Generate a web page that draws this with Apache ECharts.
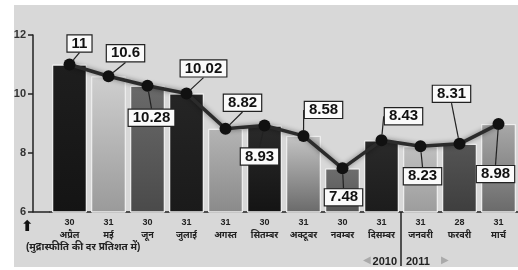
<!DOCTYPE html>
<html>
<head>
<meta charset="utf-8">
<title>मुद्रास्फीति</title>
<script src="https://cdn.jsdelivr.net/npm/echarts@6/dist/echarts.min.js"></script>
<style>
	html,body{margin:0;padding:0;background:#fff;}
	#chart{width:518px;height:270px;}
</style>
</head>
<body>
<div id="chart"></div>
<script type="text/javascript">
	// महंगाई दर (प्रतिशत में), अप्रैल 2010 - मार्च 2011
	var days = ['30','31','30','31','31','30','31','30','31','31','28','31'];
	var months = ['अप्रैल','मई','जून','जुलाई','अगस्त','सितम्बर','अक्टूबर','नवम्बर','दिसम्बर','जनवरी','फरवरी','मार्च'];
	var rates = [11, 10.6, 10.28, 10.02, 8.82, 8.93, 8.58, 7.48, 8.43, 8.23, 8.31, 8.98];
	var yTicks = [6, 8, 10, 12];
	var years = ['2010', '2011'];

	var categories = [];
	for (var i = 0; i < months.length; i++) {
		categories.push(days[i] + '\n' + months[i]);
	}

	// shades of the scanned bars, top -> bottom
	var shades = [
		['#1e1e1e','#141414'],['#cfcfcf','#9a9a9a'],['#6a6a6a','#4a4a4a'],['#252525','#1a1a1a'],
		['#b4b4b4','#8a8a8a'],['#2a2a2a','#141414'],['#c4c4c4','#6a6a6a'],['#6e6e6e','#555555'],
		['#2a2a2a','#1c1c1c'],['#c0c0c0','#9c9c9c'],['#555555','#3e3e3e'],['#a8a8a8','#6a6a6a']
	];
	// where each value box sits relative to its point
	var boxShift = [[10,-21],[17,-23],[4,32],[17,-25],[17,-26],[-5,31],[20,-26],[1,29],[22,-24],[2,30],[-8,-50],[-3,50]];

	var font = '"Liberation Sans", Arial, "Noto Sans", sans-serif';
	var myChart = echarts.init(document.getElementById('chart'));
	var option = {
		backgroundColor: '#fff',
		animation: false,
		grid: {left: 50, right: -5, top: 35, bottom: 58},
		xAxis: {
			type: 'category',
			data: categories,
			axisLine: {lineStyle: {color: '#222', width: 1.5}},
			axisTick: {show: false},
			axisLabel: {
				interval: 0, margin: 4, color: '#222', fontSize: 9, fontWeight: 'bold',
				lineHeight: 13, fontFamily: font
			}
		},
		yAxis: {
			type: 'value',
			min: yTicks[0],
			max: yTicks[yTicks.length - 1],
			interval: 2,
			offset: 17,
			axisLine: {show: true, lineStyle: {color: '#222', width: 1.5}},
			axisTick: {show: true, length: 5, lineStyle: {color: '#222', width: 1.5}},
			splitLine: {show: false},
			axisLabel: {margin: 7, color: '#333', fontSize: 11, fontWeight: 'bold', fontFamily: font}
		},
		series: [
			{
				type: 'bar',
				data: rates,
				barCategoryGap: '11%',
				z: 1,
				itemStyle: {
					color: function (p) {
						var s = shades[p.dataIndex];
						return new echarts.graphic.LinearGradient(0, 0, 0, 1, [
							{offset: 0, color: s[0]}, {offset: 1, color: s[1]}
						]);
					},
					borderColor: '#eeeeee',
					borderWidth: 1
				}
			},
			{
				type: 'line',
				data: rates,
				z: 5,
				symbol: 'circle',
				symbolSize: 12,
				itemStyle: {color: '#111'},
				lineStyle: {color: '#2b2b2b', width: 3.5, shadowColor: 'rgba(0,0,0,0.45)', shadowBlur: 5},
				label: {
					show: true,
					position: 'inside',
					color: '#111',
					fontSize: 15,
					fontWeight: 'bold',
					fontFamily: font,
					backgroundColor: '#fafafa',
					borderColor: '#222',
					borderWidth: 1.2,
					padding: [1, 4, 0, 4]
				},
				labelLine: {show: true, lineStyle: {color: '#222', width: 1.2}},
				labelLayout: function (p) {
					var s = boxShift[p.dataIndex];
					return {dx: s[0], dy: s[1]};
				}
			}
		]
	};
	myChart.setOption(option);

	// paper background, footnote and year marks
	var bottomY = myChart.convertToPixel({yAxisIndex: 0}, yTicks[0]);
	var decX = myChart.convertToPixel({xAxisIndex: 0}, 8);
	var janX = myChart.convertToPixel({xAxisIndex: 0}, 9);
	var sep = (decX + janX) / 2;
	myChart.setOption({
		graphic: [
			{type: 'rect', z: -10, shape: {x: 14, y: 5, width: 504, height: 262}, style: {fill: '#d8d8d8'}},
			{type: 'line', z: 3, shape: {x1: 33, y1: bottomY, x2: 50, y2: bottomY}, style: {stroke: '#222', lineWidth: 1.5}},
			{type: 'line', z: 3, shape: {x1: sep, y1: bottomY, x2: sep, y2: 266}, style: {stroke: '#222', lineWidth: 1.5}},
			{type: 'text', z: 3, x: 21, y: 220, style: {text: '⬆', fill: '#111', font: 'bold 15px "DejaVu Sans"'}},
			{type: 'text', z: 3, x: 26, y: 242, style: {text: '(मुद्रास्फीति की दर प्रतिशत में)', fill: '#222', font: 'bold 10px ' + font}},
			{type: 'text', z: 3, x: sep - 4, y: 256, style: {text: years[0], fill: '#222', align: 'right', font: 'bold 11px ' + font}},
			{type: 'text', z: 3, x: sep + 5, y: 256, style: {text: years[1], fill: '#222', font: 'bold 11px ' + font}},
			{type: 'text', z: 3, x: sep - 38, y: 255, style: {text: '◀', fill: '#aaa', font: '10px "DejaVu Sans"'}},
			{type: 'text', z: 3, x: sep + 40, y: 255, style: {text: '▶', fill: '#aaa', font: '10px "DejaVu Sans"'}}
		]
	});
</script>
</body>
</html>
